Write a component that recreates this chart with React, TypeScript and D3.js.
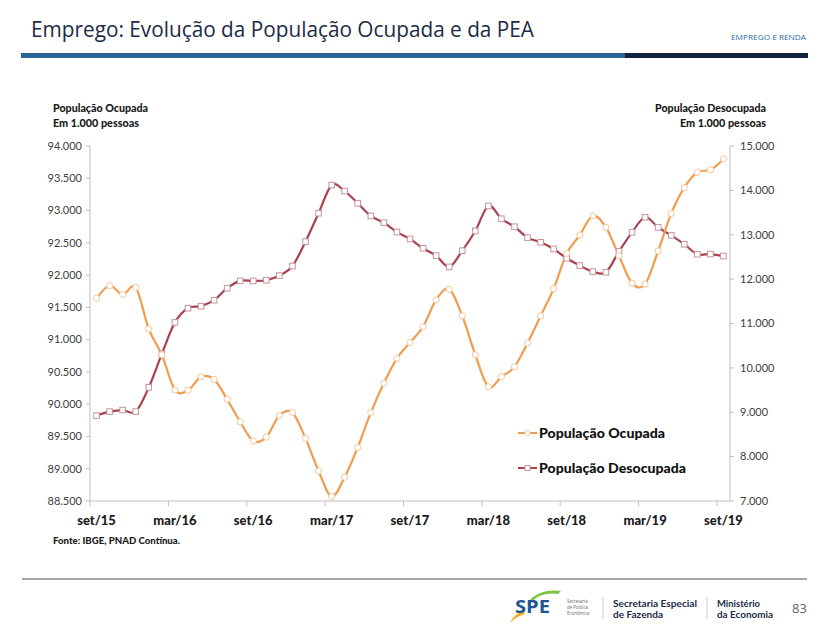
import React from "react";
import * as d3 from "d3";

const months: string[] = [
  "set/15","out/15","nov/15","dez/15","jan/16","fev/16","mar/16","abr/16","mai/16","jun/16","jul/16","ago/16",
  "set/16","out/16","nov/16","dez/16","jan/17","fev/17","mar/17","abr/17","mai/17","jun/17","jul/17","ago/17",
  "set/17","out/17","nov/17","dez/17","jan/18","fev/18","mar/18","abr/18","mai/18","jun/18","jul/18","ago/18",
  "set/18","out/18","nov/18","dez/18","jan/19","fev/19","mar/19","abr/19","mai/19","jun/19","jul/19","ago/19",
  "set/19",
];

const ocupada: number[] = [
  91640, 91835, 91700, 91810, 91165, 90765, 90220, 90215, 90425, 90385, 90075, 89725,
  89430, 89490, 89825, 89870, 89470, 88965, 88570, 88870, 89330, 89870, 90325, 90710,
  90955, 91200, 91615, 91780, 91370, 90765, 90270, 90425, 90580, 90945, 91370, 91790,
  92335, 92620, 92920, 92740, 92300, 91875, 91860, 92375, 92955, 93355, 93595, 93630,
  93800,
];

const desocupada: number[] = [
  8925, 9015, 9050, 9015, 9560, 10315, 11025, 11345, 11390, 11525, 11795, 11960,
  11960, 11975, 12080, 12295, 12845, 13485, 14120, 13985, 13710, 13425, 13270, 13060,
  12905, 12695, 12530, 12275, 12640, 13085, 13650, 13360, 13180, 12935, 12830, 12680,
  12470, 12305, 12170, 12155, 12625, 13055, 13395, 13165, 12985, 12785, 12560, 12565,
  12520,
];

const leftTicks: number[] = [88500, 89000, 89500, 90000, 90500, 91000, 91500, 92000, 92500, 93000, 93500, 94000];
const rightTicks: number[] = [7000, 8000, 9000, 10000, 11000, 12000, 13000, 14000, 15000];
const xLabels: string[] = ["set/15", "mar/16", "set/16", "mar/17", "set/17", "mar/18", "set/18", "mar/19", "set/19"];

const seriesNames: string[] = ["População Ocupada", "População Desocupada"];

const ptBR = d3.formatLocale({ decimal: ",", thousands: ".", grouping: [3], currency: ["R$", ""] });
const fmt = ptBR.format(",");

const ORANGE = "#ef9d4e";
const ORANGE_MK = "#f3c89c";
const RED = "#a8424f";
const RED_MK = "#c6939a";
const AXIS = "#bfbfbf";
const FONT = "Lato, 'Open Sans', sans-serif";

export default function App() {
  const x = d3.scaleBand<string>().domain(months).range([90, 730]).padding(0);
  const bw = x.bandwidth();
  const cx = (m: string) => (x(m) as number) + bw / 2;
  const yL = d3.scaleLinear().domain([88500, 94000]).range([501, 146]);
  const yR = d3.scaleLinear().domain([7000, 15000]).range([501, 146]);

  const lineL = d3
    .line<number>()
    .x((_, i) => cx(months[i]))
    .y((d) => yL(d))
    .curve(d3.curveCardinal.tension(0));
  const lineR = d3
    .line<number>()
    .x((_, i) => cx(months[i]))
    .y((d) => yR(d))
    .curve(d3.curveCardinal.tension(0));

  const xTickIdx = months.map((_, i) => i).filter((i) => i % 6 === 0);

  return (
    <svg
      width={823}
      height={630}
      style={{ position: "absolute", left: 0, top: 0, background: "#fff" }}
      fontFamily={FONT}
    >
      {/* header */}
      <text x={31} y={37} fontFamily="'Open Sans', sans-serif" fontSize={21} fill="#1b2b45" textLength={503} lengthAdjust="spacingAndGlyphs">
        Emprego: Evolução da População Ocupada e da PEA
      </text>
      <text x={806} y={40} textAnchor="end" fontFamily="'Open Sans', sans-serif" fontSize={8} fill="#2e6aa0" textLength={75} lengthAdjust="spacingAndGlyphs">
        EMPREGO E RENDA
      </text>
      <rect x={21} y={53} width={604} height={5} fill="#2a6597" />
      <rect x={625} y={53} width={183} height={5} fill="#13233f" />

      {/* axis titles */}
      <g fontWeight={900} fontSize={10.5} fill="#1a1a1a">
        <text x={53} y={112} textLength={95} lengthAdjust="spacingAndGlyphs">População Ocupada</text>
        <text x={53} y={127} textLength={86} lengthAdjust="spacingAndGlyphs">Em 1.000 pessoas</text>
        <text x={766} y={112} textAnchor="end" textLength={111} lengthAdjust="spacingAndGlyphs">População Desocupada</text>
        <text x={766} y={127} textAnchor="end" textLength={86} lengthAdjust="spacingAndGlyphs">Em 1.000 pessoas</text>
      </g>

      {/* axes */}
      <g stroke={AXIS} strokeWidth={1} fill="none">
        <line x1={90} x2={90} y1={146} y2={501} />
        <line x1={730} x2={730} y1={146} y2={501} />
        <line x1={90} x2={730} y1={501} y2={501} />
        {leftTicks.map((t) => (
          <line key={"lt" + t} x1={86} x2={90} y1={yL(t)} y2={yL(t)} />
        ))}
        {rightTicks.map((t) => (
          <line key={"rt" + t} x1={730} x2={734} y1={yR(t)} y2={yR(t)} />
        ))}
        {xTickIdx.map((i) => (
          <line key={"xt" + i} x1={x(months[i]) as number} x2={x(months[i]) as number} y1={501} y2={506} />
        ))}
      </g>
      <g fontSize={11} fill="#404040">
        {leftTicks.map((t) => (
          <text key={"ll" + t} x={82} y={yL(t)} dy="0.35em" textAnchor="end">
            {fmt(t)}
          </text>
        ))}
        {rightTicks.map((t) => (
          <text key={"rl" + t} x={740} y={yR(t)} dy="0.35em">
            {fmt(t)}
          </text>
        ))}
      </g>
      <g fontSize={13} fontWeight={900} fill="#1a1a1a">
        {xLabels.map((l) => (
          <text key={"xl" + l} x={cx(l)} y={525} textAnchor="middle">
            {l}
          </text>
        ))}
      </g>

      {/* series */}
      <path d={lineR(desocupada) || ""} fill="none" stroke={RED} strokeWidth={2.2} />
      <path d={lineL(ocupada) || ""} fill="none" stroke={ORANGE} strokeWidth={2.2} />
      {desocupada.map((v, i) => (
        <rect key={"rm" + i} x={cx(months[i]) - 2.8} y={yR(v) - 2.8} width={5.6} height={5.6} fill="#fff" stroke={RED_MK} strokeWidth={1} />
      ))}
      {ocupada.map((v, i) => (
        <circle key={"om" + i} cx={cx(months[i])} cy={yL(v)} r={3.1} fill="#fff" stroke={ORANGE_MK} strokeWidth={1} />
      ))}

      {/* legend */}
      <g>
        <line x1={518} x2={537} y1={433} y2={433} stroke={ORANGE} strokeWidth={2} />
        <circle cx={527.5} cy={433} r={2.6} fill="#fff" stroke={ORANGE_MK} />
        <text x={539} y={438} fontSize={14} fontWeight={900} fill="#111" textLength={126} lengthAdjust="spacingAndGlyphs">{seriesNames[0]}</text>
        <line x1={518} x2={537} y1={468} y2={468} stroke={RED} strokeWidth={2} />
        <rect x={525} y={465.5} width={5} height={5} fill="#fff" stroke={RED_MK} />
        <text x={539} y={473} fontSize={14} fontWeight={900} fill="#111" textLength={147} lengthAdjust="spacingAndGlyphs">{seriesNames[1]}</text>
      </g>

      <text x={53} y={544} fontSize={9.5} fontWeight={900} fill="#1a1a1a" textLength={127} lengthAdjust="spacingAndGlyphs">Fonte: IBGE, PNAD Contínua.</text>

      {/* footer */}
      <line x1={22} x2={807} y1={579} y2={579} stroke="#8a8a8a" strokeWidth={1.3} />
      <g fontFamily="'Open Sans', sans-serif">
        <path d="M527,603 C536,592 548,589 561,591 L558,594 C547,592 537,595 529,604 Z" fill="#7cc242" />
        <path d="M523,611 C516,614 512,618 510,623 C514,619 518,616 525,614 Z" fill="#f4a922" />
        <text x={515} y={613} fontSize={17} fontWeight="bold" fill="#1f5597" textLength={35} lengthAdjust="spacingAndGlyphs">SPE</text>
        <g fontSize={4.4} fill="#666">
          <text x={567} y={603}>Secretaria</text>
          <text x={567} y={608.8}>de Política</text>
          <text x={567} y={614.6}>Econômica</text>
        </g>
        <line x1={603} x2={603} y1={597} y2={619} stroke="#cccccc" />
        <g fontFamily="Lato, sans-serif" fontSize={9.5} fontWeight="bold" fill="#1b2b45">
          <text x={613} y={606.5} textLength={84} lengthAdjust="spacingAndGlyphs">Secretaria Especial</text>
          <text x={613} y={618} textLength={50} lengthAdjust="spacingAndGlyphs">de Fazenda</text>
        </g>
        <line x1={707} x2={707} y1={597} y2={619} stroke="#cccccc" />
        <g fontFamily="Lato, sans-serif" fontSize={9.5} fontWeight="bold" fill="#1b2b45">
          <text x={717} y={606.5} textLength={43} lengthAdjust="spacingAndGlyphs">Ministério</text>
          <text x={717} y={618} textLength={56} lengthAdjust="spacingAndGlyphs">da Economia</text>
        </g>
        <text x={792} y={613} fontSize={13} fill="#666">83</text>
      </g>
    </svg>
  );
}
